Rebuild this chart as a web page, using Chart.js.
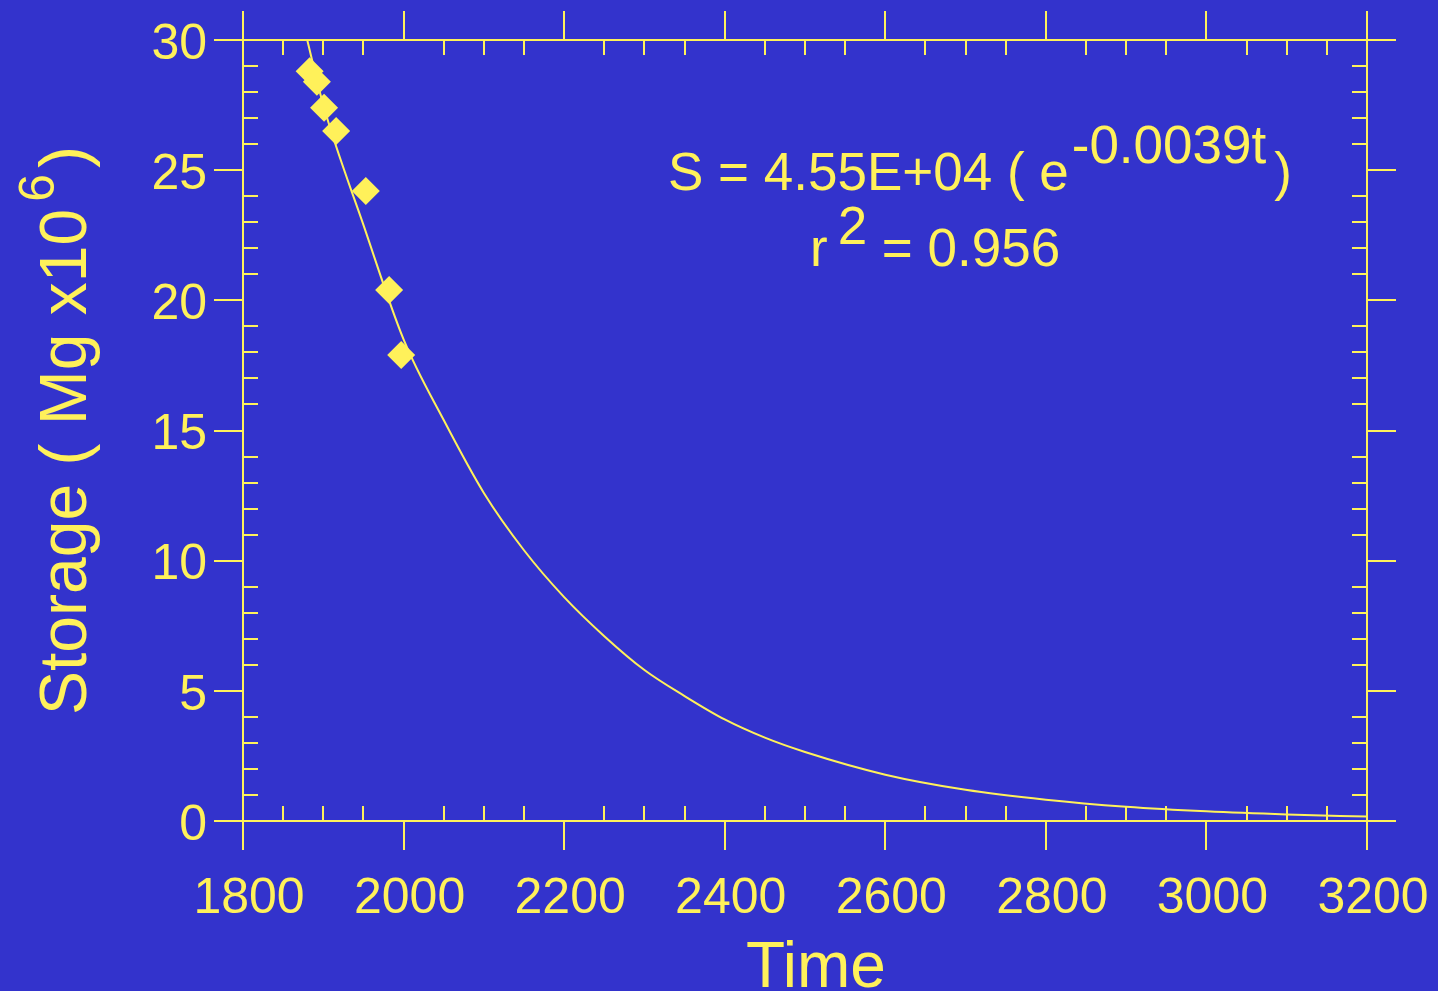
<!DOCTYPE html>
<html>
<head>
<meta charset="utf-8">
<script src="https://cdn.jsdelivr.net/npm/chart.js@4.4.1/dist/chart.umd.min.js"></script>
<style>
  html, body { margin: 0; padding: 0; background: #3333cc; overflow: hidden; }
</style>
</head>
<body>
<canvas id="storage" width="1438" height="991"></canvas>
<script>
// measured storage (Mg x10^6)
const sampleYears = [1883, 1892, 1901, 1916, 1953, 1982, 1997];
const sampleStorage = [28.8, 28.4, 27.4, 26.5, 24.2, 20.4, 17.9];

// fitted curve
const fitYears = [1880, 1900, 1950, 2000, 2050, 2100, 2150, 2200, 2250, 2300, 2350, 2400, 2450, 2500, 2600, 2700, 2800, 2900, 3000, 3100, 3200];
const fitStorage = [30.0, 27.5, 22.9, 18.5, 15.4, 12.6, 10.4, 8.6, 7.1, 5.8, 4.8, 3.9, 3.2, 2.65, 1.78, 1.2, 0.82, 0.55, 0.37, 0.25, 0.17];

const xTicks = [1800, 2000, 2200, 2400, 2600, 2800, 3000, 3200];
const yTicks = [0, 5, 10, 15, 20, 25, 30];

const YEL = '#fff15a';
const FONT = '"Liberation Sans", Arial, sans-serif';

function toPoints(xs, ys) {
    return xs.map(function (x, i) { return {x: x, y: ys[i]}; });
}

function noPad(s) {
    s.paddingTop = 0; s.paddingBottom = 0; s.paddingLeft = 0; s.paddingRight = 0;
}

const framePlugin = {
    id: 'frame',
    afterDatasetsDraw: function (chart) {
        var ctx = chart.ctx;
        var xs = chart.scales.x, ys = chart.scales.y;
        var a = chart.chartArea;
        var L = Math.round(a.left), R = Math.round(a.right), T = Math.round(a.top), B = Math.round(a.bottom);
        var outer = 29, inner = 15;

        ctx.save();
        ctx.strokeStyle = YEL;
        ctx.lineWidth = 2;
        function seg(x1, y1, x2, y2) {
            ctx.beginPath(); ctx.moveTo(x1, y1); ctx.lineTo(x2, y2); ctx.stroke();
        }
        // box
        seg(L - outer, T, R + outer, T);
        seg(L - outer, B, R + outer, B);
        seg(L, T - outer, L, B + outer);
        seg(R, T - outer, R, B + outer);

        // x ticks: majors every 200 outward, minors every 50 inward
        for (var v = xTicks[0]; v <= xTicks[xTicks.length - 1]; v += 50) {
            var px = Math.round(xs.getPixelForValue(v));
            if (xTicks.indexOf(v) >= 0) {
                seg(px, T - outer, px, T);
                seg(px, B, px, B + outer);
            } else {
                seg(px, T, px, T + inner);
                seg(px, B - inner, px, B);
            }
        }
        // y ticks: majors every 5 outward, minors every 1 inward
        for (var w = yTicks[0]; w <= yTicks[yTicks.length - 1]; w += 1) {
            var py = Math.round(ys.getPixelForValue(w));
            if (yTicks.indexOf(w) >= 0) {
                seg(L - outer, py, L, py);
                seg(R, py, R + outer, py);
            } else {
                seg(L, py, L + inner, py);
                seg(R - inner, py, R, py);
            }
        }

        ctx.fillStyle = YEL;
        ctx.textAlign = 'left';
        ctx.textBaseline = 'alphabetic';

        // x title
        ctx.font = '64px ' + FONT;
        ctx.textAlign = 'center';
        ctx.fillText('Time', 816, 987);
        ctx.textAlign = 'left';

        // y title, rotated, with superscript 6
        ctx.save();
        var big = '66px ' + FONT, small = '50px ' + FONT;
        ctx.translate(86, 715);
        ctx.rotate(-Math.PI / 2);
        ctx.font = big;
        var p1 = 'Storage ( Mg x10';
        ctx.fillText(p1, 0, 0);
        var tx = ctx.measureText(p1).width + 7;
        ctx.font = small;
        ctx.fillText('6', tx, -32);
        tx += ctx.measureText('6').width + 6;
        ctx.font = big;
        ctx.fillText(')', tx, 0);
        ctx.restore();

        // fit equation
        ctx.font = '53px ' + FONT;
        var e1 = 'S = 4.55E+04 ( e';
        ctx.fillText(e1, 668, 190);
        var ex = 668 + ctx.measureText(e1).width + 3;
        ctx.fillText('-0.0039t', ex, 163);
        ex += ctx.measureText('-0.0039t').width + 8;
        ctx.fillText(')', ex, 190);

        ctx.fillText('r', 810, 266);
        var rx = 810 + ctx.measureText('r').width + 10;
        ctx.fillText('2', rx, 244);
        rx += ctx.measureText('2').width;
        ctx.fillText(' = 0.956', rx, 266);

        ctx.restore();
    }
};

new Chart(document.getElementById('storage'), {
    type: 'scatter',
    data: {
        datasets: [
            {
                label: 'fit',
                data: toPoints(fitYears, fitStorage),
                showLine: true,
                borderColor: YEL,
                borderWidth: 2,
                pointRadius: 0,
                cubicInterpolationMode: 'monotone',
                order: 2
            },
            {
                label: 'storage',
                data: toPoints(sampleYears, sampleStorage),
                pointStyle: 'rectRot',
                pointRadius: 14,
                backgroundColor: YEL,
                borderColor: YEL,
                borderWidth: 0,
                order: 1
            }
        ]
    },
    options: {
        responsive: false,
        animation: false,
        layout: {padding: {top: 40, right: 71, left: 0, bottom: 0}},
        plugins: {legend: {display: false}, tooltip: {enabled: false}},
        scales: {
            x: {
                type: 'linear',
                min: 1800,
                max: 3200,
                afterFit: function (s) { s.height = 170; noPad(s); },
                afterBuildTicks: function (s) { s.ticks = xTicks.map(function (v) { return {value: v}; }); },
                grid: {display: false, drawTicks: false},
                border: {display: false},
                ticks: {
                    color: YEL,
                    font: {family: FONT, size: 50},
                    padding: 48,
                    labelOffset: 6,
                    maxRotation: 0,
                    autoSkip: false,
                    callback: function (v) { return String(v); }
                }
            },
            y: {
                type: 'linear',
                min: 0,
                max: 30,
                afterFit: function (s) { s.width = 243; noPad(s); },
                afterBuildTicks: function (s) { s.ticks = yTicks.map(function (v) { return {value: v}; }); },
                grid: {display: false, drawTicks: false},
                border: {display: false},
                ticks: {
                    color: YEL,
                    font: {family: FONT, size: 50},
                    padding: 36,
                    labelOffset: 5,
                    autoSkip: false,
                    callback: function (v) { return String(v); }
                }
            }
        }
    },
    plugins: [framePlugin]
});
</script>
</body>
</html>
